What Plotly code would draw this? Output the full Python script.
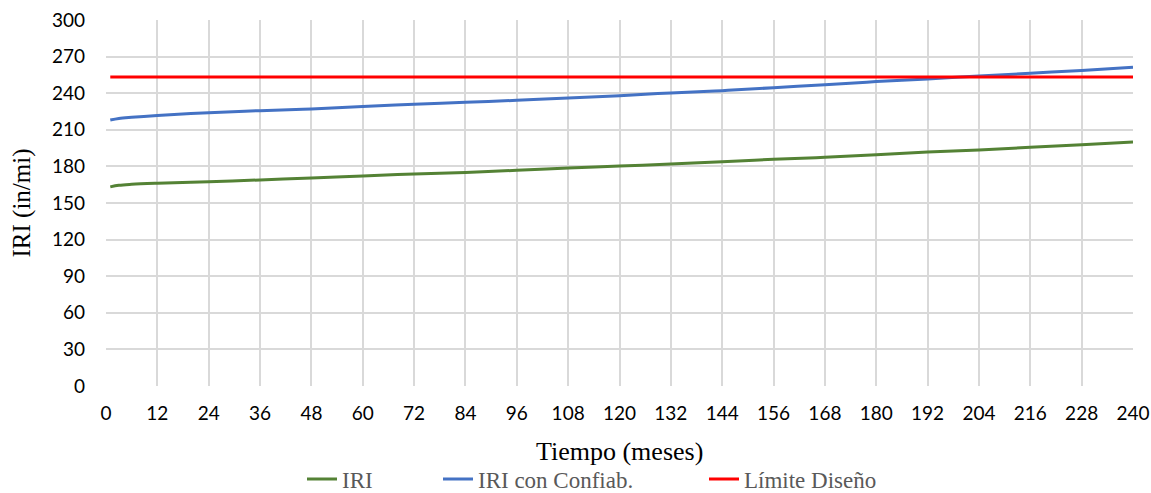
import plotly.graph_objects as go

# Meses de análisis y valores de IRI (in/mi)
meses = [1, 3, 6, 12, 24, 36, 48, 60, 72, 84, 96, 108, 120, 132, 144, 156,
         168, 180, 192, 204, 216, 228, 240]
iri = [163.2, 164.5, 165.3, 166.2, 167.5, 168.9, 170.5, 172.1, 173.8, 175.1,
       176.8, 178.7, 180.3, 182.0, 183.9, 185.8, 187.4, 189.6, 191.8, 193.4,
       195.6, 197.8, 200.0]
iri_confiab = [218.0, 219.3, 220.3, 221.8, 224.0, 225.7, 227.0, 229.0, 230.9,
               232.5, 234.2, 236.1, 238.0, 240.2, 242.1, 244.5, 247.0, 249.5,
               251.6, 254.1, 256.3, 258.7, 261.2]
limite_diseno = 253.3

x_ticks = list(range(0, 241, 12))
y_ticks = list(range(0, 301, 30))

serif = "Liberation Serif, serif"

fig = go.Figure()
fig.add_trace(go.Scatter(x=meses, y=iri, mode="lines", name="IRI",
                         legend="legend",
                         line=dict(color="#548235", width=3, shape="spline")))
fig.add_trace(go.Scatter(x=meses, y=iri_confiab, mode="lines",
                         name="IRI con Confiab.", legend="legend2",
                         line=dict(color="#4472C4", width=3, shape="spline")))
fig.add_trace(go.Scatter(x=[meses[0], meses[-1]],
                         y=[limite_diseno, limite_diseno], mode="lines",
                         name="Límite Diseño", legend="legend3",
                         line=dict(color="#FF0000", width=3)))

legend_font = dict(family=serif, size=23, color="#595959")


def legend_at(px):
    return dict(xref="container", yref="container", x=px / 1151,
                xanchor="left", y=1 - 479 / 493, yanchor="middle",
                orientation="h", font=legend_font, bgcolor="rgba(0,0,0,0)",
                itemwidth=30)


fig.update_layout(
    width=1151, height=493,
    margin=dict(l=106, r=18, t=20, b=107, autoexpand=False),
    paper_bgcolor="white", plot_bgcolor="white",
    font=dict(family="Lato, Open Sans, sans-serif", size=19, color="black"),
    showlegend=True,
    legend=legend_at(302),
    legend2=legend_at(438),
    legend3=legend_at(704),
    xaxis=dict(range=[0, 240], tickvals=x_ticks, showgrid=True,
               gridcolor="#D9D9D9", gridwidth=1.5, zeroline=False,
               showline=False, ticks="", ticklabelstandoff=14,
               automargin=False, tickfont=dict(size=19)),
    yaxis=dict(range=[0, 300], tickvals=y_ticks, showgrid=True,
               gridcolor="#D9D9D9", gridwidth=1.5, zeroline=False,
               showline=False, ticks="", ticklabelstandoff=20,
               automargin=False, tickfont=dict(size=19),
               title=dict(text="IRI (in/mi)", standoff=14,
                          font=dict(family=serif, size=25))),
    annotations=[dict(text="Tiempo (meses)", xref="paper", yref="paper",
                      x=0.5, y=-0.18, xanchor="center", yanchor="middle",
                      showarrow=False, font=dict(family=serif, size=26))],
)

fig.write_html("out.html")
